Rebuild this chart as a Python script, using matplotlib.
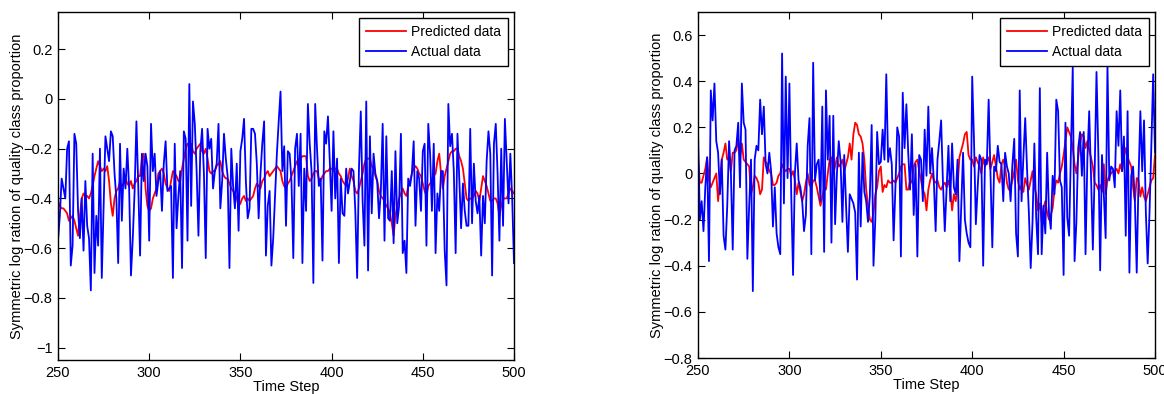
import matplotlib.pyplot as plt
import numpy as np

# time axis
steps = np.arange(250, 501)

# left panel: predicted (red) and actual (blue)
pred_left = [
    -0.41, -0.43, -0.44, -0.44, -0.45, -0.46, -0.49, -0.48, -0.47, -0.49,
    -0.52, -0.55, -0.47, -0.40, -0.38, -0.39, -0.39, -0.40, -0.38, -0.35,
    -0.31, -0.28, -0.25, -0.27, -0.29, -0.28, -0.29, -0.27, -0.33, -0.42,
    -0.47, -0.40, -0.37, -0.36, -0.33, -0.35, -0.34, -0.32, -0.34, -0.35,
    -0.33, -0.36, -0.34, -0.33, -0.31, -0.31, -0.24, -0.22, -0.36, -0.43,
    -0.45, -0.44, -0.40, -0.38, -0.36, -0.30, -0.29, -0.28, -0.30, -0.34,
    -0.36, -0.37, -0.33, -0.29, -0.30, -0.31, -0.33, -0.33, -0.28, -0.24,
    -0.20, -0.18, -0.19, -0.18, -0.21, -0.22, -0.20, -0.19, -0.18, -0.21,
    -0.22, -0.20, -0.24, -0.29, -0.30, -0.29, -0.29, -0.27, -0.26, -0.25,
    -0.29, -0.31, -0.32, -0.32, -0.34, -0.36, -0.37, -0.38, -0.40, -0.43,
    -0.42, -0.40, -0.39, -0.41, -0.40, -0.41, -0.40, -0.39, -0.36, -0.34,
    -0.35, -0.36, -0.33, -0.32, -0.30, -0.29, -0.31, -0.30, -0.29, -0.28,
    -0.27, -0.28, -0.29, -0.33, -0.35, -0.36, -0.34, -0.33, -0.31, -0.29,
    -0.27, -0.25,
    -0.27, -0.24, -0.23, -0.23, -0.23, -0.31, -0.33, -0.32, -0.30, -0.29,
    -0.29, -0.32, -0.33, -0.31, -0.30, -0.29, -0.29, -0.28, -0.28, -0.29,
    -0.28, -0.28, -0.30, -0.31, -0.33, -0.34, -0.35, -0.32, -0.28, -0.31,
    -0.33, -0.37, -0.38, -0.36, -0.33, -0.30, -0.26, -0.24, -0.24, -0.24,
    -0.27, -0.28, -0.31, -0.33, -0.37, -0.39, -0.40, -0.41, -0.43, -0.44,
    -0.46, -0.50, -0.55, -0.47, -0.43, -0.40, -0.38, -0.36, -0.38, -0.39,
    -0.35, -0.33, -0.30, -0.28, -0.27, -0.28, -0.30, -0.31, -0.34, -0.37,
    -0.39, -0.35, -0.34, -0.33, -0.31, -0.30, -0.25, -0.22, -0.30, -0.36,
    -0.31, -0.28, -0.25, -0.22, -0.21, -0.21, -0.20, -0.20, -0.23, -0.25,
    -0.28, -0.34, -0.40, -0.41, -0.40, -0.40, -0.39, -0.37, -0.38, -0.41,
    -0.36, -0.31, -0.33, -0.35, -0.38, -0.41, -0.41, -0.40, -0.40, -0.42,
    -0.47, -0.43, -0.40, -0.40, -0.40, -0.38, -0.36, -0.37, -0.38,
]

actual_left = [
    # 250-312
    -0.57, -0.47, -0.32, -0.36, -0.40, -0.20, -0.17, -0.67, -0.59, -0.14,
    -0.18, -0.45, -0.56, -0.40, -0.61, -0.33, -0.51, -0.56, -0.77, -0.22,
    -0.70, -0.47, -0.59, -0.20, -0.72, -0.43, -0.15, -0.20, -0.25, -0.13,
    -0.15, -0.30, -0.40, -0.66, -0.18, -0.49, -0.28, -0.36, -0.20, -0.36,
    -0.71, -0.56, -0.37, -0.09, -0.35, -0.63, -0.22, -0.33, -0.22, -0.27,
    -0.57, -0.10, -0.29, -0.22, -0.39, -0.33, -0.29, -0.45, -0.26, -0.17,
    -0.37, -0.36, -0.35,
    # 313-375
    -0.72, -0.18, -0.52, -0.39, -0.29, -0.68, -0.13, -0.16, -0.57, 0.06,
    -0.43, -0.01, -0.10, -0.29, -0.55, -0.21, -0.12, -0.30, -0.64, -0.12,
    -0.20, -0.16, -0.36, -0.29, -0.26, -0.10, -0.44, -0.33, -0.14, -0.24,
    -0.31, -0.68, -0.20, -0.35, -0.44, -0.26, -0.53, -0.21, -0.16, -0.08,
    -0.33, -0.48, -0.44, -0.12, -0.12, -0.14, -0.26, -0.48, -0.30, -0.18,
    -0.09, -0.63, -0.43, -0.37, -0.67, -0.56, -0.39, -0.22, -0.09, 0.03,
    -0.29, -0.19, -0.51,
    # 376-435
    -0.21, -0.22, -0.33, -0.64, -0.20, -0.14, -0.35, -0.14, -0.66, -0.28,
    -0.45, -0.02, -0.18, -0.29, -0.74, -0.02, -0.20, -0.35, -0.32, -0.65,
    -0.13, -0.18, -0.07, -0.25, -0.45, -0.13, -0.40, -0.24, -0.66, -0.32,
    -0.46, -0.47, -0.28, -0.38, -0.33, -0.28, -0.29, -0.45, -0.72, -0.28,
    -0.05, -0.41, -0.59, -0.01, -0.69, -0.15, -0.46, -0.22, -0.30, -0.33,
    -0.48, -0.37, -0.10, -0.57, -0.15, -0.48, -0.49, -0.29, -0.58, -0.21,
    # 436-500
    -0.50, -0.43, -0.14, -0.62, -0.57, -0.70, -0.32, -0.35, -0.30, -0.17,
    -0.51, -0.29, -0.32, -0.45, -0.21, -0.18, -0.59, -0.10, -0.22, -0.45,
    -0.18, -0.62, -0.38, -0.45, -0.29, -0.29, -0.61, -0.75, -0.02, -0.19,
    -0.14, -0.29, -0.62, -0.14, -0.32, -0.52, -0.34, -0.45, -0.51, -0.51,
    -0.12, -0.50, -0.26, -0.41, -0.46, -0.39, -0.63, -0.39, -0.50, -0.25,
    -0.13, -0.22, -0.71, -0.18, -0.10, -0.30, -0.57, -0.20, -0.51, -0.08,
    -0.25, -0.42, -0.22, -0.40, -0.66,
]

# right panel
pred_right = [
    0.07, -0.04, -0.04, -0.01, 0.02, 0.07, -0.03, -0.06, -0.04, -0.02,
    0.00, -0.12, -0.03, 0.06, 0.09, 0.13, 0.06, 0.07, 0.01, 0.09,
    0.09, 0.10, 0.15, 0.07, 0.13, 0.06, 0.05, 0.04, 0.03, -0.09,
    -0.06, -0.01, -0.02, -0.04, -0.09, -0.07, 0.07, 0.05, 0.04, 0.01,
    0.00, -0.05, -0.05, -0.04, -0.01, 0.00, 0.04, 0.02, 0.01, 0.02,
    0.02, -0.01, 0.01, -0.03, -0.09, -0.04, -0.08, -0.12, -0.09, -0.04,
    0.00, -0.05, -0.06, -0.03, -0.03, -0.06, -0.10, -0.14, -0.10, -0.06,
    -0.07, 0.00, 0.06, 0.07, 0.00, 0.03, 0.07, 0.03, 0.04, 0.06,
    0.01, 0.04, 0.07, 0.13, 0.06, 0.17, 0.22, 0.21, 0.17, 0.16,
    0.13, 0.06, -0.07, -0.14, -0.20, -0.21, -0.17, -0.09, -0.06, 0.01,
    0.03, -0.08, -0.05, -0.06, -0.03, -0.04, -0.04, -0.03, -0.04, -0.02,
    0.00, 0.03, 0.04, 0.04, -0.07, -0.07, -0.03, -0.04, 0.03, 0.05,
    0.06, 0.01, -0.03, -0.07, -0.09, -0.16, -0.07, -0.03, 0.00, -0.03,
    -0.04, -0.03, -0.06, -0.07, -0.05, -0.04, -0.06, -0.03, -0.07, -0.16,
    -0.09, -0.12, -0.06, 0.07, 0.10, 0.13, 0.17, 0.18, 0.08, 0.06,
    0.06, 0.03, 0.07, 0.05, 0.03, 0.00, 0.07, 0.03, 0.05, 0.07,
    0.02, 0.05, 0.08, 0.03, -0.02, -0.04, 0.04, 0.06, 0.03, -0.04,
    -0.07, -0.06, -0.03, 0.01, 0.06, -0.03, -0.07, -0.05, -0.08, -0.02,
    -0.05, -0.07, -0.03, 0.01, -0.06, -0.09, -0.16, -0.13, -0.21, -0.15,
    -0.12, -0.17, -0.20, -0.18, -0.15, -0.07, -0.03, -0.04, 0.00, 0.03,
    0.08, 0.14, 0.20, 0.18, 0.16, 0.11, 0.04, 0.00, 0.07, 0.13,
    0.17, 0.16, 0.11, 0.14, 0.10, 0.07, 0.03, -0.04, -0.05, -0.07,
    -0.05, -0.08, 0.04, -0.09, -0.03, -0.01, 0.00, 0.01, 0.01, 0.02,
    0.00, 0.04, 0.01, 0.07, 0.11, 0.07, 0.05, 0.03, -0.06, -0.12,
    -0.02, -0.03, -0.10, -0.06, -0.10, -0.12, -0.09, -0.06, -0.03, -0.02,
    0.08,
]

actual_right = [
    # 250-312
    0.19, -0.20, -0.12, -0.25, -0.06, 0.07, -0.38, 0.36, 0.23, 0.39,
    0.14, 0.09, -0.09, 0.06, -0.27, -0.33, -0.14, 0.14, 0.00, -0.33,
    0.10, 0.12, 0.22, -0.06, 0.39, 0.22, 0.19, -0.37, -0.14, 0.06,
    -0.51, 0.06, 0.12, 0.10, 0.32, 0.17, 0.29, 0.04, 0.00, 0.09,
    0.01, -0.23, -0.06, -0.26, -0.32, -0.35, 0.52, -0.13, 0.42, -0.02,
    0.39, -0.09, -0.44, 0.00, 0.13, -0.03, -0.06, -0.12, -0.25, -0.18,
    0.12, 0.24, -0.35,
    # 313-375
    0.48, -0.03, 0.04, 0.06, -0.12, 0.29, -0.34, 0.36, 0.06, 0.25,
    -0.30, 0.25, -0.22, 0.00, 0.14, 0.05, -0.21, 0.08, -0.14, -0.34,
    -0.09, -0.11, -0.13, -0.17, -0.46, 0.09, -0.23, 0.09, -0.08, -0.12,
    -0.21, -0.10, 0.21, -0.40, -0.20, 0.18, 0.04, 0.05, 0.19, 0.06,
    0.43, 0.05, 0.11, 0.04, -0.29, -0.06, 0.20, 0.16, -0.36, 0.35,
    0.11, 0.30, 0.09, -0.07, 0.17, -0.18, 0.04, -0.36, 0.08, 0.06,
    -0.12, 0.19, -0.01,
    # 376-437
    0.29, 0.00, 0.11, -0.03, -0.25, 0.06, 0.14, 0.23, -0.04, -0.25,
    -0.07, 0.12, -0.12, 0.13, -0.06, -0.09, 0.06, -0.38, -0.15, 0.09,
    -0.20, -0.26, -0.30, -0.32, 0.42, 0.14, -0.22, -0.06, 0.08, 0.06,
    -0.40, 0.06, 0.04, 0.32, 0.00, -0.32, 0.03, 0.01, 0.12, 0.05,
    0.04, -0.12, 0.09, 0.03, 0.00, -0.12, 0.04, 0.15, -0.26, -0.36,
    0.36, -0.12, 0.07, 0.24, 0.02, -0.17, -0.41, -0.21, 0.13, -0.19,
    -0.35, 0.37,
    # 438-500
    -0.35, -0.14, -0.26, 0.09, -0.17, -0.24, -0.01, -0.09, 0.32, 0.27,
    -0.03, -0.06, -0.44, 0.22, -0.19, -0.27, 0.09, 0.46, -0.38, -0.21,
    0.11, 0.18, -0.01, 0.18, -0.35, 0.06, 0.27, -0.01, -0.33, 0.01,
    0.44, 0.09, -0.42, 0.08, -0.09, -0.28, 0.47, -0.03, 0.03, 0.02,
    -0.06, 0.27, 0.12, 0.36, 0.01, 0.16, -0.27, 0.27, -0.43, -0.01,
    0.03, -0.12, -0.43, -0.02, 0.27, 0.01, 0.23, -0.17, -0.39, -0.17,
    0.12, 0.43, 0.09,
]

xticks = [250, 300, 350, 400, 450, 500]
yticks_left = [-1, -0.8, -0.6, -0.4, -0.2, 0, 0.2]
yticks_right = [-0.8, -0.6, -0.4, -0.2, 0, 0.2, 0.4, 0.6]

plt.rcParams['font.family'] = ['Liberation Sans', 'DejaVu Sans']
plt.rcParams['font.size'] = 10


def fmt(v):
    # MATLAB-style labels with a real minus sign
    return f'{v:g}'.replace('-', '\u2212')


fig = plt.figure(figsize=(11.64, 3.94), dpi=100)
ax1 = fig.add_axes([58 / 1164, 34 / 394, 456 / 1164, 348 / 394])
ax2 = fig.add_axes([698 / 1164, 36 / 394, 457 / 1164, 346 / 394])

panels = [
    (ax1, pred_left, actual_left, yticks_left, (-1.05, 0.35)),
    (ax2, pred_right, actual_right, yticks_right, (-0.8, 0.7)),
]

for ax, pred, actual, yt, ylim in panels:
    ax.plot(steps, pred, color='#ff0000', lw=1.3, label='Predicted data')
    ax.plot(steps, actual, color='#0000ff', lw=1.3, label='Actual data')
    ax.set_xlim(250, 500)
    ax.set_ylim(*ylim)
    ax.set_xticks(xticks)
    ax.set_yticks(yt)
    ax.set_yticklabels([fmt(v) for v in yt])
    ax.tick_params(direction='in', top=True, right=True, length=5,
                   width=0.8, labelsize=10.5, pad=4)
    for sp in ax.spines.values():
        sp.set_linewidth(1.0)
    ax.set_xlabel('Time Step', fontsize=10.5, labelpad=0)
    ax.set_ylabel('Symmetric log ration of quality class proportion',
                  fontsize=10.5, labelpad=0)
    leg = ax.legend(loc='upper right', fontsize=10, fancybox=False,
                    framealpha=1, edgecolor='black', borderaxespad=0.45,
                    handlelength=2.9, borderpad=0.5, labelspacing=0.4,
                    handletextpad=0.35)
    leg.get_frame().set_linewidth(1.0)

fig.savefig('out.png', dpi=100)
